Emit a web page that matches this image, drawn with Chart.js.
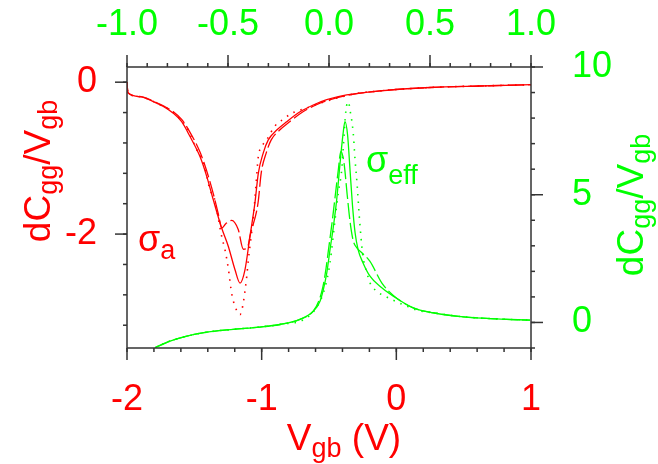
<!DOCTYPE html>
<html>
<head>
<meta charset="utf-8">
<script src="https://cdn.jsdelivr.net/npm/chart.js@4.4.1/dist/chart.umd.min.js"></script>
<style>
  html, body { margin: 0; padding: 0; background: #fff; }
</style>
</head>
<body>
<canvas id="grafico" width="658" height="464"></canvas>
<script>
// Curvas rojas (eje inferior Vgb, eje izquierdo)
const redSolidV = [-2, -1.993, -1.903, -1.805, -1.73, -1.656, -1.594, -1.532, -1.458, -1.408, -1.359, -1.297, -1.248, -1.198, -1.161, -1.124, -1.087, -1.05, -1.025, -0.988, -0.951, -0.888, -0.814, -0.715, -0.617, -0.517, -0.369, -0.121, 0.25, 0.621, 1.0];
const redSolidC = [0, -0.14, -0.19, -0.255, -0.32, -0.41, -0.52, -0.716, -0.98, -1.24, -1.55, -1.92, -2.16, -2.47, -2.645, -2.47, -2.03, -1.59, -1.2, -0.93, -0.76, -0.63, -0.52, -0.39, -0.3, -0.23, -0.167, -0.114, -0.07, -0.05, -0.033];

const redDashV = [-2, -1.993, -1.903, -1.805, -1.73, -1.656, -1.594, -1.532, -1.458, -1.408, -1.359, -1.32, -1.297, -1.265, -1.223, -1.174, -1.136, -1.099, -1.087, -1.027, -1.003, -0.966, -0.929, -0.866, -0.792, -0.693, -0.597, -0.49, -0.344, -0.121, 0.25, 0.621, 1.0];
const redDashC = [0, -0.14, -0.19, -0.25, -0.31, -0.39, -0.49, -0.66, -0.92, -1.17, -1.47, -1.75, -1.92, -1.86, -1.82, -1.94, -2.2, -2.14, -2.03, -1.59, -1.19, -0.93, -0.76, -0.63, -0.52, -0.39, -0.3, -0.23, -0.167, -0.114, -0.07, -0.05, -0.033];

const redDotV = [-2, -1.993, -1.903, -1.842, -1.73, -1.664, -1.606, -1.557, -1.527, -1.482, -1.445, -1.421, -1.384, -1.352, -1.297, -1.272, -1.248, -1.223, -1.198, -1.161, -1.141, -1.131, -1.111, -1.099, -1.087, -1.06, -1.04, -1.025, -1.0, -0.963, -0.901, -0.839, -0.777, -0.666, -0.567, -0.443, -0.3, -0.121, 0.25, 0.621, 1.0];
const redDotC = [0, -0.14, -0.19, -0.224, -0.32, -0.387, -0.487, -0.59, -0.707, -0.89, -1.0, -1.13, -1.417, -1.526, -2.03, -2.21, -2.45, -2.78, -2.95, -3.06, -2.95, -2.84, -2.56, -2.34, -2.16, -1.75, -1.3, -0.98, -0.85, -0.76, -0.575, -0.487, -0.41, -0.34, -0.276, -0.21, -0.15, -0.114, -0.07, -0.05, -0.033];

// Curvas verdes (eje superior, eje derecho)
const greenSolidV = [-0.861, -0.787, -0.704, -0.605, -0.474, -0.342, -0.243, -0.144, -0.078, -0.045, -0.028, -0.011, 0.005, 0.021, 0.038, 0.054, 0.069, 0.079, 0.092, 0.104, 0.116, 0.129, 0.144, 0.168, 0.203, 0.252, 0.318, 0.417, 0.516, 0.665, 0.83, 0.995];
const greenSolidC = [-0.99, -0.73, -0.535, -0.38, -0.27, -0.18, -0.08, 0.12, 0.44, 0.82, 1.29, 1.94, 2.85, 3.71, 4.8, 6.17, 7.34, 7.86, 7.34, 5.98, 4.61, 3.52, 2.85, 2.34, 1.81, 1.42, 1.03, 0.57, 0.38, 0.22, 0.14, 0.09];

const greenDashV = [-0.861, -0.787, -0.704, -0.605, -0.474, -0.342, -0.243, -0.144, -0.078, -0.05, -0.03, -0.015, 0.0, 0.015, 0.03, 0.045, 0.059, 0.075, 0.09, 0.105, 0.12, 0.14, 0.16, 0.203, 0.261, 0.32, 0.417, 0.516, 0.665, 0.83, 0.995];
const greenDashC = [-0.99, -0.73, -0.535, -0.38, -0.27, -0.18, -0.08, 0.12, 0.44, 0.85, 1.4, 2.1, 3.0, 3.9, 4.9, 5.9, 6.7, 6.2, 5.0, 3.9, 3.2, 2.9, 2.75, 2.39, 1.55, 1.05, 0.57, 0.38, 0.22, 0.14, 0.09];

const greenDotV = [-0.861, -0.787, -0.704, -0.605, -0.474, -0.342, -0.243, -0.11, -0.053, -0.02, 0.005, 0.03, 0.046, 0.063, 0.071, 0.084, 0.096, 0.104, 0.12, 0.129, 0.14, 0.15, 0.167, 0.19, 0.203, 0.236, 0.277, 0.318, 0.393, 0.434, 0.516, 0.665, 0.83, 0.995];
const greenDotC = [-0.99, -0.73, -0.535, -0.38, -0.27, -0.18, -0.08, 0.18, 0.7, 1.36, 2.34, 4.02, 5.07, 5.98, 6.89, 8.32, 8.64, 8.32, 7.41, 6.37, 5.32, 4.15, 2.66, 1.88, 1.55, 1.22, 1.03, 0.87, 0.61, 0.48, 0.38, 0.22, 0.14, 0.09];

// Etiquetas de los ejes
const bottomLabels = [-2, -1, 0, 1];
const topLabels = [-1, -0.5, 0, 0.5, 1];
const leftLabels = [0, -2];
const rightLabels = [0, 5, 10];

const ROJO = '#ff0000';
const VERDE = '#00ff00';
const FUENTE = "'Liberation Sans', Arial, Helvetica, sans-serif";

const zip = (xs, ys) => xs.map((x, i) => ({ x: x, y: ys[i] }));

// marcas mayores y menores dibujadas a mano
function pasos(min, max, paso) {
    const out = [];
    const n = Math.round((max - min) / paso);
    for (let i = 0; i <= n; i++) out.push(+(min + i * paso).toFixed(4));
    return out;
}

const marcasEjes = {
    id: 'marcasEjes',
    afterDraw(chart) {
        const ctx = chart.ctx;
        const a = chart.chartArea;
        const s = chart.scales;
        ctx.save();
        ctx.strokeStyle = '#333';
        ctx.lineWidth = 1.5;
        ctx.strokeRect(a.left, a.top, a.right - a.left, a.bottom - a.top);

        const linea = (x1, y1, x2, y2) => {
            ctx.beginPath(); ctx.moveTo(x1, y1); ctx.lineTo(x2, y2); ctx.stroke();
        };
        const marcar = (escala, valores, largo) => {
            valores.forEach(v => {
                const p = escala.getPixelForValue(v);
                if (escala.id === 'x') linea(p, a.bottom, p, a.bottom + largo);
                if (escala.id === 'x2') linea(p, a.top, p, a.top - largo);
                if (escala.id === 'y') linea(a.left, p, a.left - largo, p);
                if (escala.id === 'y2') linea(a.right, p, a.right + largo, p);
            });
        };
        marcar(s.x, pasos(-2, 1, 0.2), 4);
        marcar(s.x, bottomLabels, 12);
        marcar(s.x2, pasos(-1, 1, 0.1), 4);
        marcar(s.x2, topLabels, 12);
        marcar(s.y, pasos(-3.2, 0.0, 0.4), 4);
        marcar(s.y, leftLabels, 12);
        marcar(s.y2, pasos(-1, 10, 1), 4);
        marcar(s.y2, rightLabels, 12);
        ctx.restore();
    }
};

// texto con subíndices: partes = [[texto, esSub], ...]
function anchoTexto(ctx, partes, tam, tamSub) {
    let w = 0;
    partes.forEach(([t, sub]) => {
        ctx.font = (sub ? tamSub : tam) + 'px ' + FUENTE;
        w += ctx.measureText(t).width;
    });
    return w;
}
function escribir(ctx, partes, x, y, tam, tamSub, bajada) {
    partes.forEach(([t, sub]) => {
        ctx.font = (sub ? tamSub : tam) + 'px ' + FUENTE;
        ctx.fillText(t, x, sub ? y + bajada : y);
        x += ctx.measureText(t).width;
    });
}

const textos = {
    id: 'textos',
    afterDraw(chart) {
        const ctx = chart.ctx;
        ctx.save();
        ctx.textBaseline = 'alphabetic';
        ctx.textAlign = 'left';

        // titulo inferior
        const tituloX = [['V', false], ['gb', true], [' (V)', false]];
        ctx.fillStyle = ROJO;
        let w = anchoTexto(ctx, tituloX, 37, 27);
        escribir(ctx, tituloX, 344 - w / 2, 450, 37, 27, 7);

        // titulos verticales
        const tituloY = [['dC', false], ['gg', true], ['/V', false], ['gb', true]];
        w = anchoTexto(ctx, tituloY, 37, 27);
        ctx.save();
        ctx.translate(50, 171);
        ctx.rotate(-Math.PI / 2);
        ctx.fillStyle = ROJO;
        escribir(ctx, tituloY, -w / 2, 0, 37, 27, 7);
        ctx.restore();

        ctx.save();
        ctx.translate(643, 205);
        ctx.rotate(-Math.PI / 2);
        ctx.fillStyle = VERDE;
        escribir(ctx, tituloY, -w / 2, 0, 37, 27, 7);
        ctx.restore();

        // sigma
        ctx.fillStyle = ROJO;
        escribir(ctx, [['σ', false], ['a', true]], 138, 251, 36, 27, 8);
        ctx.fillStyle = VERDE;
        escribir(ctx, [['σ', false], ['eff', true]], 366, 172, 36, 27, 12);
        ctx.restore();
    }
};

function serie(xs, ys, color, dash, ejeX, ejeY, ancho) {
    return {
        data: zip(xs, ys),
        xAxisID: ejeX,
        yAxisID: ejeY,
        borderColor: color,
        borderWidth: ancho,
        borderDash: dash,
        pointRadius: 0,
        fill: false,
        cubicInterpolationMode: 'monotone'
    };
}

const fuenteTicks = { family: FUENTE, size: 36 };

const grafico = new Chart(document.getElementById('grafico').getContext('2d'), {
    type: 'line',
    data: {
        datasets: [
            serie(greenSolidV, greenSolidC, VERDE, [], 'x2', 'y2', 1.3),
            serie(greenDashV, greenDashC, VERDE, [16, 4], 'x2', 'y2', 1.3),
            serie(greenDotV, greenDotC, VERDE, [1.5, 6], 'x2', 'y2', 1.6),
            serie(redSolidV, redSolidC, ROJO, [], 'x', 'y', 1.3),
            serie(redDashV, redDashC, ROJO, [16, 4], 'x', 'y', 1.3),
            serie(redDotV, redDotC, ROJO, [1.5, 6], 'x', 'y', 1.6)
        ]
    },
    options: {
        responsive: false,
        animation: false,
        devicePixelRatio: 1,
        events: [],
        layout: { padding: 0 },
        plugins: { legend: { display: false }, tooltip: { enabled: false } },
        scales: {
            x: {
                type: 'linear', position: 'bottom', min: -2, max: 1,
                afterBuildTicks: e => { e.ticks = bottomLabels.map(v => ({ value: v })); },
                afterFit: e => { e.height = 116; },
                grid: { display: false, drawTicks: false },
                border: { display: false },
                ticks: { color: ROJO, font: fuenteTicks, padding: 30, maxRotation: 0, autoSkip: false, callback: v => String(v) }
            },
            x2: {
                type: 'linear', position: 'top', min: -1, max: 1,
                afterBuildTicks: e => { e.ticks = topLabels.map(v => ({ value: v })); },
                afterFit: e => { e.height = 67; },
                grid: { display: false, drawTicks: false },
                border: { display: false },
                ticks: { color: VERDE, font: fuenteTicks, padding: 20, maxRotation: 0, autoSkip: false, callback: v => v.toFixed(1) }
            },
            y: {
                type: 'linear', position: 'left', min: -3.5, max: 0.2,
                afterBuildTicks: e => { e.ticks = leftLabels.map(v => ({ value: v })); },
                afterFit: e => { e.width = 127; },
                grid: { display: false, drawTicks: false },
                border: { display: false },
                ticks: { color: ROJO, font: fuenteTicks, padding: 30, autoSkip: false, callback: v => String(v) }
            },
            y2: {
                type: 'linear', position: 'right', min: -1, max: 10,
                afterBuildTicks: e => { e.ticks = rightLabels.map(v => ({ value: v })); },
                afterFit: e => { e.width = 127; },
                grid: { display: false, drawTicks: false },
                border: { display: false },
                ticks: { color: VERDE, font: fuenteTicks, padding: 41, autoSkip: false, callback: v => String(v) }
            }
        }
    },
    plugins: [marcasEjes, textos]
});
</script>
</body>
</html>
